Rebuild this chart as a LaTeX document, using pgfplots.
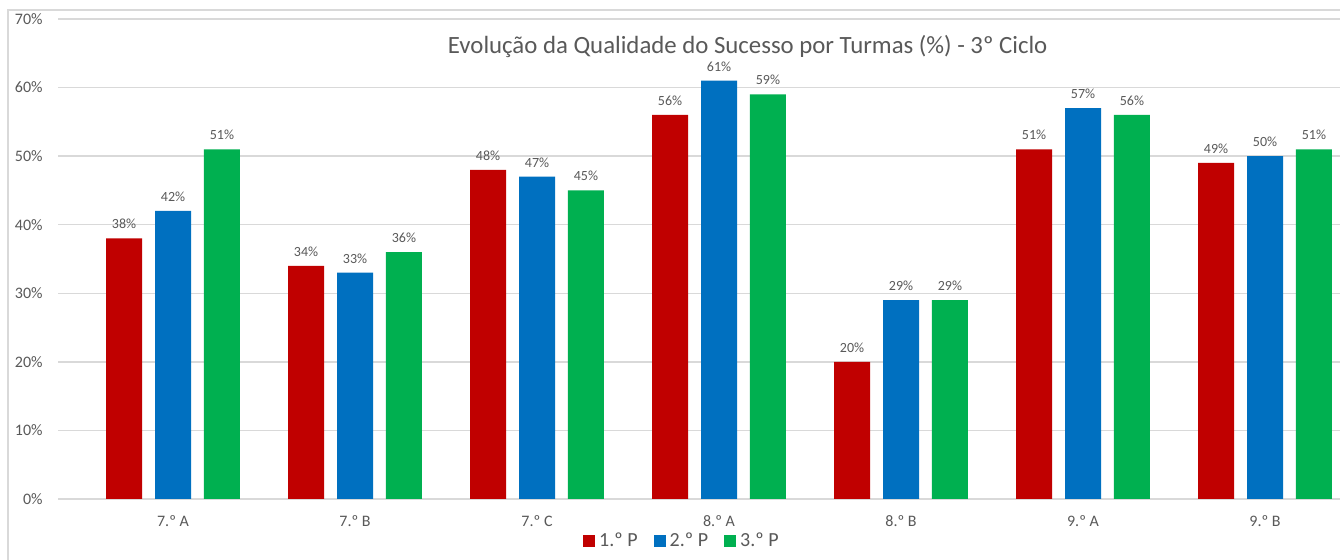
\documentclass[border=0pt]{standalone}
\usepackage{pgfplots}
\pgfplotsset{compat=1.18}
\usepackage{fontspec}
\setmainfont{Carlito}
\definecolor{cred}{HTML}{C00000}
\definecolor{cblue}{HTML}{0070C0}
\definecolor{cgreen}{HTML}{00B050}
\definecolor{textgray}{HTML}{595959}
\definecolor{gridgray}{HTML}{D9D9D9}
\begin{document}
\begin{tikzpicture}
\useasboundingbox (0,0) rectangle (670pt,280pt);
\fill[white] (0,0) rectangle (670pt,280pt);
\draw[gridgray, line width=0.7pt] (4pt,0pt) -- (4pt,275pt) -- (670pt,275pt);
\begin{axis}[
  at={(29pt,30.5pt)}, anchor=south west,
  scale only axis, width=641pt, height=240pt,
  ybar,
  xmin=-0.632, xmax=6.412,
  ymin=0, ymax=70,
  ytick={0,10,...,70},
  yticklabel={\pgfmathprintnumber{\tick}\%},
  xtick={0,1,2,3,4,5,6},
  xticklabels={7.º A,7.º B,7.º C,8.º A,8.º B,9.º A,9.º B},
  ymajorgrids,
  grid style={draw=gridgray, line width=0.7pt},
  axis x line*=bottom,
  axis y line*=left,
  y axis line style={draw=none},
  x axis line style={draw=gridgray, line width=0.7pt},
  major tick length=0pt,
  tick style={draw=none},
  yticklabel style={font=\fontsize{8}{9}\selectfont, color=textgray, inner sep=0pt, xshift=-7.5pt},
  xticklabel style={font=\fontsize{8}{9}\selectfont, color=textgray, inner sep=0pt, yshift=-8pt},
  /pgf/number format/assume math mode=true,
  title={Evolução da Qualidade do Sucesso por Turmas (\%) - 3º Ciclo},
  title style={at={(0.538,0.918)}, anchor=center, font=\fontsize{12.4}{14}\selectfont, color=textgray},
  nodes near coords={\pgfmathprintnumber[fixed,precision=0]{\pgfplotspointmeta}\%},
  every node near coord/.append style={font=\fontsize{7}{8}\selectfont, color=textgray, inner sep=0pt, anchor=south, yshift=4.5pt},
  legend columns=3,
  legend style={at={(0.4875,-0.088)}, anchor=center, draw=none, fill=none, font=\fontsize{10}{12}\selectfont, text=textgray,
    /tikz/every even column/.append style={column sep=6pt}},
  legend image code/.code={\fill[#1] (0pt,-3pt) rectangle (6pt,3pt);},
]
\addplot[fill=cred, draw=none, bar shift=-0.269, bar width=0.198] coordinates {(0,38) (1,34) (2,48) (3,56) (4,20) (5,51) (6,49)};
\addplot[fill=cblue, draw=none, bar shift=0, bar width=0.198] coordinates {(0,42) (1,33) (2,47) (3,61) (4,29) (5,57) (6,50)};
\addplot[fill=cgreen, draw=none, bar shift=0.269, bar width=0.198] coordinates {(0,51) (1,36) (2,45) (3,59) (4,29) (5,56) (6,51)};
\legend{1.º P, 2.º P, 3.º P}
\end{axis}
\end{tikzpicture}
\end{document}
